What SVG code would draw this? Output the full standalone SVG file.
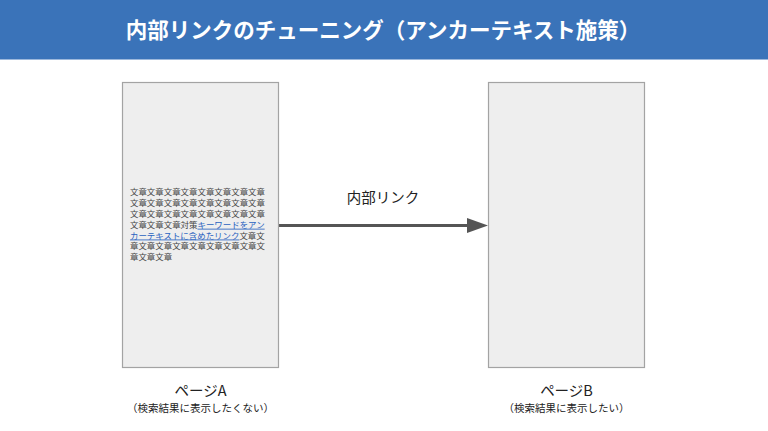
<svg xmlns="http://www.w3.org/2000/svg" width="768" height="431" viewBox="0 0 768 431">
<defs>
<style>
.jp{font-family:"Noto Sans CJK JP","Liberation Sans",sans-serif;}
.title{font-size:21.5px;font-weight:bold;fill:#ffffff;}
.page{fill:#eeeeee;stroke:#a3a3a3;stroke-width:1.2;}
.lbl{font-size:14.5px;fill:#222222;}
.sub{font-size:10.5px;fill:#222222;}
.body{font-size:8.45px;fill:#444444;}
.link{fill:#2a62c0;text-decoration:underline;}
</style>
</defs>
<rect width="768" height="431" fill="#ffffff"/>
<g id="header">
<rect x="0" y="0" width="768" height="59.5" fill="#3a73b9"/>
<text class="jp title" x="383" y="37.5" text-anchor="middle">内部リンクのチューニング（アンカーテキスト施策）</text>
</g>
<g id="connectors">
<line x1="279" y1="225.5" x2="470" y2="225.5" stroke="#555555" stroke-width="3"/>
<path d="M467,218 L488,225.5 L467,233 Z" fill="#555555"/>
<text class="jp lbl" x="383" y="203" text-anchor="middle">内部リンク</text>
</g>
<g id="pageA">
<rect class="page" x="122.5" y="82.5" width="156" height="285"/>
<text class="jp body" x="130" y="195.3">文章文章文章文章文章文章文章文章</text>
<text class="jp body" x="130" y="206.1">文章文章文章文章文章文章文章文章</text>
<text class="jp body" x="130" y="216.9">文章文章文章文章文章文章文章文章</text>
<text class="jp body" x="130" y="227.7">文章文章文章対策<tspan class="link">キーワードをアン</tspan></text>
<text class="jp body" x="130" y="238.5"><tspan class="link">カーテキストに含めたリンク</tspan>文章文</text>
<text class="jp body" x="130" y="249.3">章文章文章文章文章文章文章文章文</text>
<text class="jp body" x="130" y="260.1">章文章文章</text>
<text class="jp lbl" x="200.5" y="396" text-anchor="middle">ページA</text>
<text class="jp sub" x="200.5" y="412" text-anchor="middle">（検索結果に表示したくない）</text>
</g>
<g id="pageB">
<rect class="page" x="488.5" y="82.5" width="156" height="285"/>
<text class="jp lbl" x="566.5" y="396" text-anchor="middle">ページB</text>
<text class="jp sub" x="566.5" y="412" text-anchor="middle">（検索結果に表示したい）</text>
</g>
</svg>
